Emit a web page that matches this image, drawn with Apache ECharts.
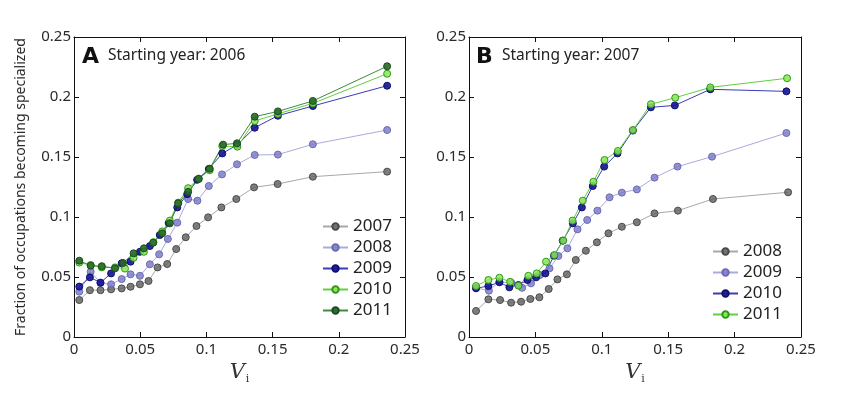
<!DOCTYPE html>
<html>
<head>
<meta charset="utf-8">
<script src="https://cdn.jsdelivr.net/npm/echarts@6/dist/echarts.min.js"></script>
<style>
  html, body { margin: 0; padding: 0; background: #fff; }
  #chart { width: 847px; height: 398px; }
</style>
</head>
<body>
<div id="chart"></div>
<script>
// 数据 - panel A (starting year 2006)
var xA2007 = [0.004, 0.012, 0.020, 0.028, 0.036, 0.0427, 0.0498, 0.0563, 0.0631, 0.0704, 0.0772, 0.0844, 0.0925, 0.1013, 0.1113, 0.1226, 0.136, 0.1538, 0.1804, 0.2365];
var yA2007 = [0.0308, 0.039, 0.039, 0.0397, 0.0405, 0.0419, 0.0439, 0.0467, 0.058, 0.0608, 0.0733, 0.0831, 0.0925, 0.0997, 0.108, 0.115, 0.1247, 0.1275, 0.1336, 0.1378];
var xA2008 = [0.004, 0.0126, 0.020, 0.028, 0.036, 0.0427, 0.0498, 0.0573, 0.0643, 0.0709, 0.078, 0.0862, 0.0932, 0.1018, 0.1118, 0.1231, 0.1365, 0.154, 0.1804, 0.2365];
var yA2008 = [0.0378, 0.0544, 0.045, 0.0439, 0.0483, 0.0522, 0.051, 0.0606, 0.0689, 0.0817, 0.0953, 0.115, 0.1136, 0.1258, 0.1355, 0.1439, 0.1517, 0.152, 0.1606, 0.1725];
var xA2009 = [0.004, 0.012, 0.020, 0.028, 0.036, 0.0427, 0.0498, 0.0573, 0.0648, 0.0715, 0.078, 0.0855, 0.093, 0.1018, 0.112, 0.1231, 0.1365, 0.154, 0.1804, 0.2365];
var yA2009 = [0.042, 0.0497, 0.0453, 0.053, 0.0614, 0.0628, 0.071, 0.0758, 0.085, 0.095, 0.108, 0.119, 0.131, 0.14, 0.153, 0.16, 0.1744, 0.1844, 0.1925, 0.2094];
var xA2010 = [0.004, 0.0126, 0.021, 0.031, 0.0385, 0.045, 0.0528, 0.060, 0.0666, 0.0724, 0.0787, 0.0862, 0.0942, 0.1025, 0.112, 0.1234, 0.1365, 0.154, 0.1804, 0.2365];
var yA2010 = [0.062, 0.060, 0.058, 0.058, 0.057, 0.066, 0.071, 0.079, 0.088, 0.097, 0.112, 0.124, 0.132, 0.139, 0.159, 0.1586, 0.180, 0.186, 0.1947, 0.2194];
var xA2011 = [0.004, 0.0126, 0.021, 0.031, 0.037, 0.045, 0.0528, 0.0598, 0.0666, 0.0724, 0.0787, 0.0862, 0.0942, 0.1025, 0.1126, 0.1231, 0.1365, 0.154, 0.1804, 0.2365];
var yA2011 = [0.0636, 0.0594, 0.059, 0.0572, 0.0617, 0.0697, 0.0739, 0.0786, 0.0864, 0.0947, 0.1114, 0.121, 0.1317, 0.1403, 0.1603, 0.1614, 0.1836, 0.188, 0.1967, 0.2256];

// 数据 - panel B (starting year 2007)
var xB2008 = [0.0053, 0.0146, 0.0234, 0.0317, 0.0392, 0.0462, 0.053, 0.060, 0.0666, 0.0737, 0.0804, 0.088, 0.0963, 0.105, 0.1151, 0.1264, 0.1397, 0.1573, 0.1837, 0.2403];
var yB2008 = [0.0217, 0.0314, 0.0308, 0.0286, 0.0294, 0.0317, 0.0331, 0.040, 0.048, 0.0522, 0.0642, 0.0719, 0.0789, 0.0864, 0.0919, 0.0956, 0.103, 0.1053, 0.115, 0.1206];
var xB2009 = [0.0053, 0.015, 0.0229, 0.032, 0.040, 0.0467, 0.0535, 0.0606, 0.0673, 0.0741, 0.0817, 0.089, 0.0967, 0.1058, 0.1151, 0.1264, 0.1397, 0.157, 0.183, 0.239];
var yB2009 = [0.041, 0.0386, 0.046, 0.045, 0.041, 0.0447, 0.0517, 0.0572, 0.0675, 0.0739, 0.0897, 0.0975, 0.1053, 0.1164, 0.1203, 0.123, 0.1328, 0.142, 0.1503, 0.170];
var xB2010 = [0.0053, 0.0146, 0.0229, 0.0304, 0.0372, 0.044, 0.0505, 0.0575, 0.064, 0.0706, 0.0782, 0.085, 0.0932, 0.1018, 0.1118, 0.1234, 0.137, 0.155, 0.1817, 0.239];
var yB2010 = [0.0406, 0.0425, 0.0456, 0.0414, 0.0433, 0.0475, 0.0497, 0.053, 0.0678, 0.0803, 0.0947, 0.108, 0.1258, 0.142, 0.153, 0.172, 0.1914, 0.193, 0.2064, 0.2047];
var xB2011 = [0.0053, 0.0146, 0.0229, 0.031, 0.0372, 0.0447, 0.051, 0.058, 0.0643, 0.071, 0.078, 0.0857, 0.0937, 0.102, 0.1121, 0.1234, 0.137, 0.1553, 0.1817, 0.2395];
var yB2011 = [0.0425, 0.0475, 0.0494, 0.046, 0.0428, 0.051, 0.053, 0.0628, 0.0683, 0.0803, 0.097, 0.1136, 0.1294, 0.1475, 0.155, 0.1725, 0.194, 0.1994, 0.208, 0.2156];

// 颜色: [marker fill, marker edge, line]
var cGray = ['rgba(95,95,95,0.8)', '#4a4a4a', '#a8a8a8'];
var cLav = ['rgba(120,120,200,0.8)', '#6a6ab0', '#aaaadf'];
var cNavy = ['rgba(20,20,150,0.9)', '#10106a', '#3c3cb4'];
var cLight = ['rgba(140,230,90,0.85)', '#2c9a14', '#62d040'];
var cDark = ['rgba(40,105,40,0.9)', '#1c4a1c', '#3e8c3e'];

function zip(xs, ys) {
    return xs.map(function (x, i) { return [x, ys[i]]; });
}

function mkSeries(name, xs, ys, col, idx) {
    return {
        name: name,
        type: 'line',
        xAxisIndex: idx,
        yAxisIndex: idx,
        data: zip(xs, ys),
        symbol: 'circle',
        symbolSize: 7,
        showSymbol: true,
        lineStyle: { color: col[2], width: 1 },
        itemStyle: { color: col[0], borderColor: col[1], borderWidth: 1 },
        emphasis: { disabled: true },
        animation: false
    };
}

var font = 'Noto Sans, DejaVu Sans, sans-serif';
var labColor = '#2a2a2a';

function xAx(gi, pos) {
    var main = pos === 'bottom';
    return {
        type: 'value', gridIndex: gi, position: pos,
        min: 0, max: 0.25, interval: 0.05,
        axisLine: { show: true, onZero: false, lineStyle: { color: '#111', width: 1 } },
        axisTick: { show: true, inside: true, length: 5, lineStyle: { color: '#111' } },
        axisLabel: { show: main, color: labColor, fontSize: 15, fontFamily: font, margin: 5 },
        splitLine: { show: false },
        name: main ? '{v|V}{i|i}' : '',
        nameLocation: 'middle',
        nameGap: 22,
        nameTextStyle: {
            rich: {
                v: { fontSize: 21, fontStyle: 'italic', fontFamily: 'DejaVu Serif, Liberation Serif, serif', color: '#333' },
                i: { fontSize: 11, fontFamily: 'DejaVu Serif, serif', color: '#333', padding: [14, 0, 0, 1] }
            }
        }
    };
}

function yAx(gi, pos, withName) {
    var main = pos === 'left';
    return {
        type: 'value', gridIndex: gi, position: pos,
        min: 0, max: 0.25, interval: 0.05,
        axisLine: { show: true, onZero: false, lineStyle: { color: '#111', width: 1 } },
        axisTick: { show: true, inside: true, length: 5, lineStyle: { color: '#111' } },
        axisLabel: { show: main, color: labColor, fontSize: 15, fontFamily: font, margin: 3 },
        splitLine: { show: false },
        name: withName ? 'Fraction of occupations becoming specialized' : '',
        nameLocation: 'middle',
        nameRotate: 90,
        nameGap: 46,
        nameTextStyle: { fontSize: 14, fontFamily: font, color: labColor }
    };
}

var legendText = { fontSize: 17, fontFamily: font, color: '#222' };

var option = {
    backgroundColor: '#fff',
    animation: false,
    grid: [
        { left: 74, top: 37, width: 331, height: 300 },
        { left: 469, top: 37, width: 332, height: 300 }
    ],
    xAxis: [xAx(0, 'bottom'), xAx(1, 'bottom'), xAx(0, 'top'), xAx(1, 'top')],
    yAxis: [yAx(0, 'left', true), yAx(1, 'left', false), yAx(0, 'right', false), yAx(1, 'right', false)],
    legend: [
        {
            data: ['2007', '2008', '2009', '2010', '2011'],
            orient: 'vertical', left: 317, top: 213,
            itemWidth: 25, itemHeight: 8, itemGap: 4,
            textStyle: legendText
        },
        {
            data: ['B2008', 'B2009', 'B2010', 'B2011'],
            orient: 'vertical', left: 707, top: 238,
            itemWidth: 25, itemHeight: 8, itemGap: 4,
            textStyle: legendText,
            formatter: function (n) { return n.slice(1); }
        }
    ],
    graphic: [
        { type: 'text', left: 82, top: 46, style: { text: 'A', fontSize: 22, fontWeight: 'bold', fontFamily: 'DejaVu Sans, sans-serif', fill: '#111' } },
        { type: 'text', left: 108, top: 48, style: { text: 'Starting year: 2006', fontSize: 15.5, fontFamily: font, fill: '#222' } },
        { type: 'text', left: 476, top: 46, style: { text: 'B', fontSize: 22, fontWeight: 'bold', fontFamily: 'DejaVu Sans, sans-serif', fill: '#111' } },
        { type: 'text', left: 502, top: 48, style: { text: 'Starting year: 2007', fontSize: 15.5, fontFamily: font, fill: '#222' } }
    ],
    series: [
        mkSeries('2007', xA2007, yA2007, cGray, 0),
        mkSeries('2008', xA2008, yA2008, cLav, 0),
        mkSeries('2009', xA2009, yA2009, cNavy, 0),
        mkSeries('2010', xA2010, yA2010, cLight, 0),
        mkSeries('2011', xA2011, yA2011, cDark, 0),
        mkSeries('B2008', xB2008, yB2008, cGray, 1),
        mkSeries('B2009', xB2009, yB2009, cLav, 1),
        mkSeries('B2010', xB2010, yB2010, cNavy, 1),
        mkSeries('B2011', xB2011, yB2011, cLight, 1)
    ]
};

var chart = echarts.init(document.getElementById('chart'), null, { renderer: 'canvas' });
chart.setOption(option);
</script>
</body>
</html>
